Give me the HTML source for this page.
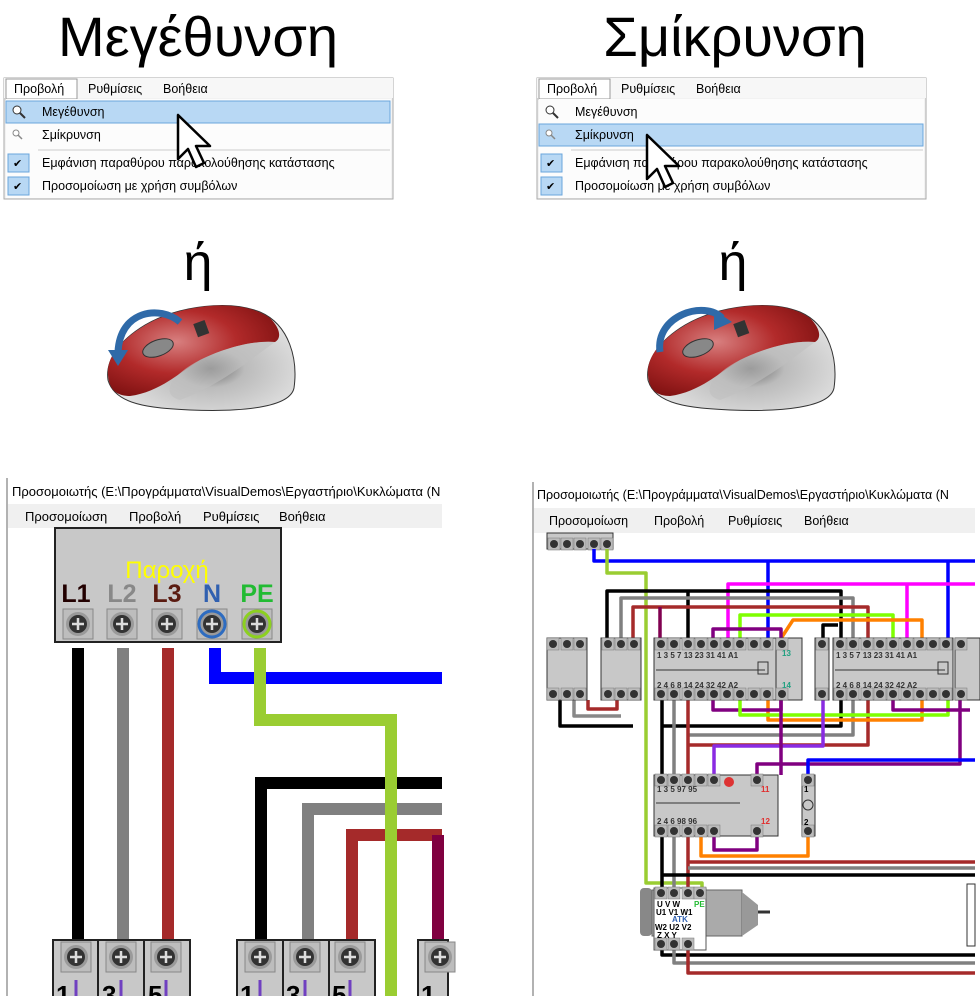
<!DOCTYPE html>
<html><head><meta charset="utf-8"><style>
body{margin:0;background:#fff;}
svg{display:block;font-family:"Liberation Sans","DejaVu Sans",sans-serif;}
</style></head><body>
<svg width="980" height="996" viewBox="0 0 980 996" xmlns="http://www.w3.org/2000/svg">
<defs>
<g id="scr"><rect x="-15" y="-15" width="30" height="30" fill="#bdbdbd" stroke="#888"/><circle r="12" fill="#9a9a9a"/><circle r="9" fill="#333"/><path d="M-6 0H6M0-6V6" stroke="#ddd" stroke-width="2.5"/></g>
<g id="s"><rect x="-6" y="-6" width="12" height="12" fill="#bbb" stroke="#777" stroke-width=".5"/><circle r="4" fill="#333"/></g>
<radialGradient id="rg" cx="40%" cy="40%" r="70%"><stop offset="0" stop-color="#d88080"/><stop offset=".5" stop-color="#b22a2a"/><stop offset="1" stop-color="#7a0f0f"/></radialGradient>
<radialGradient id="gg" cx="55%" cy="60%" r="60%"><stop offset="0" stop-color="#666"/><stop offset=".3" stop-color="#bbb"/><stop offset="1" stop-color="#e8e8e8"/></radialGradient>
<g id="mouse">
<path d="M8 80 C5 60 20 40 45 25 C80 5 130 0 160 12 C190 25 198 60 194 88 C190 108 140 112 90 110 C50 108 15 105 8 80Z" fill="url(#gg)" stroke="#333" stroke-width="1"/>
<path d="M8 75 C6 55 25 35 55 20 C95 2 145 0 170 18 C180 28 182 38 175 42 C150 40 120 50 100 60 C80 72 60 92 30 96 C15 96 9 88 8 75Z" fill="url(#rg)"/>
<path d="M100 60 C120 50 150 40 175 42 C150 60 120 85 80 100 C60 95 70 75 100 60Z" fill="#c0c0c0" opacity=".6"/>
<ellipse cx="58" cy="48" rx="16" ry="8" fill="#888" transform="rotate(-20 58 48)" stroke="#333"/>
<rect x="95" y="22" width="12" height="14" fill="#333" transform="rotate(-20 100 28)"/>
</g>
<g id="cur"><path d="M0 0 L0 44 L10 34 L18 52 L26 48 L18 31 L32 31 Z" fill="#fff" stroke="#000" stroke-width="2.5" stroke-linejoin="round"/></g>
</defs>

<!-- Titles -->
<text x="198" y="56" font-size="56" text-anchor="middle">Μεγέθυνση</text>
<text x="735" y="56" font-size="56" text-anchor="middle">Σμίκρυνση</text>
<text x="198" y="280" font-size="52" text-anchor="middle">ή</text>
<text x="733" y="280" font-size="52" text-anchor="middle">ή</text>

<!-- Left menu -->
<g font-size="12.5" fill="#000">
<rect x="4" y="78" width="389" height="121" fill="#f2f2f2" stroke="#aaa"/>
<rect x="4" y="78" width="389" height="20" fill="#f7f7f7"/>
<rect x="6" y="79" width="71" height="20" fill="#fff" stroke="#999"/>
<text x="14" y="93">Προβολή</text><text x="88" y="93">Ρυθμίσεις</text><text x="163" y="93">Βοήθεια</text>
<rect x="6" y="99" width="385" height="99" fill="#fcfcfc"/>
<rect x="6" y="101" width="384" height="22" fill="#b8d8f4" stroke="#6aa6dc"/>
<text x="42" y="116">Μεγέθυνση</text>
<text x="42" y="139">Σμίκρυνση</text>
<line x1="38" y1="150" x2="390" y2="150" stroke="#ccc"/>
<rect x="8" y="154" width="21" height="18" fill="#b8d8f4" stroke="#6aa6dc"/><text x="13" y="167" font-size="11">✔</text>
<rect x="8" y="177" width="21" height="18" fill="#b8d8f4" stroke="#6aa6dc"/><text x="13" y="190" font-size="11">✔</text>
<text x="42" y="167">Εμφάνιση παραθύρου παρακολούθησης κατάστασης</text>
<text x="42" y="190">Προσομοίωση με χρήση συμβόλων</text>
<circle cx="17" cy="110" r="4" fill="#fff" stroke="#333"/><line x1="20" y1="113" x2="25" y2="118" stroke="#333" stroke-width="2"/>
<circle cx="16" cy="133" r="3" fill="#fff" stroke="#888"/><line x1="18" y1="135" x2="22" y2="139" stroke="#888" stroke-width="1.5"/>
</g>
<use href="#cur" x="178" y="115"/>

<!-- Right menu -->
<g font-size="12.5" fill="#000">
<rect x="537" y="78" width="389" height="121" fill="#f2f2f2" stroke="#aaa"/>
<rect x="537" y="78" width="389" height="20" fill="#f7f7f7"/>
<rect x="539" y="79" width="71" height="20" fill="#fff" stroke="#999"/>
<text x="547" y="93">Προβολή</text><text x="621" y="93">Ρυθμίσεις</text><text x="696" y="93">Βοήθεια</text>
<rect x="539" y="99" width="385" height="99" fill="#fcfcfc"/>
<rect x="539" y="124" width="384" height="22" fill="#b8d8f4" stroke="#6aa6dc"/>
<text x="575" y="116">Μεγέθυνση</text>
<text x="575" y="139">Σμίκρυνση</text>
<line x1="571" y1="150" x2="923" y2="150" stroke="#ccc"/>
<rect x="541" y="154" width="21" height="18" fill="#b8d8f4" stroke="#6aa6dc"/><text x="546" y="167" font-size="11">✔</text>
<rect x="541" y="177" width="21" height="18" fill="#b8d8f4" stroke="#6aa6dc"/><text x="546" y="190" font-size="11">✔</text>
<text x="575" y="167">Εμφάνιση παραθύρου παρακολούθησης κατάστασης</text>
<text x="575" y="190">Προσομοίωση με χρήση συμβόλων</text>
<circle cx="550" cy="110" r="4" fill="#fff" stroke="#333"/><line x1="553" y1="113" x2="558" y2="118" stroke="#333" stroke-width="2"/>
<circle cx="549" cy="133" r="3" fill="#fff" stroke="#888"/><line x1="551" y1="135" x2="555" y2="139" stroke="#888" stroke-width="1.5"/>
</g>
<use href="#cur" x="647" y="135"/>

<!-- Mice -->
<use href="#mouse" x="100" y="300"/>
<path d="M180 322 C160 305 120 310 118 352" fill="none" stroke="#2f6aa8" stroke-width="7"/>
<path d="M108 350 L128 350 L118 366 Z" fill="#2f6aa8"/>
<use href="#mouse" x="640" y="300"/>
<path d="M660 352 C655 315 705 300 722 318" fill="none" stroke="#2f6aa8" stroke-width="7"/>
<path d="M714 310 L732 322 L714 330 Z" fill="#2f6aa8"/>

<!-- Bottom left panel -->
<line x1="7" y1="478" x2="7" y2="996" stroke="#999" stroke-width="1.5"/>
<text x="12" y="496" font-size="13">Προσομοιωτής (E:\Προγράμματα\VisualDemos\Εργαστήριο\Κυκλώματα (N</text>
<rect x="8" y="504" width="434" height="24" fill="#f0f0f0"/>
<g font-size="13"><text x="25" y="521">Προσομοίωση</text><text x="129" y="521">Προβολή</text><text x="203" y="521">Ρυθμίσεις</text><text x="279" y="521">Βοήθεια</text></g>
<rect x="55" y="528" width="226" height="114" fill="#c8c8c8" stroke="#222" stroke-width="2"/>
<text x="167" y="578" font-size="24" fill="#ffff00" text-anchor="middle">Παροχή</text>
<g font-size="25" font-weight="bold" text-anchor="middle">
<text x="76" y="602" fill="#200">L1</text><text x="122" y="602" fill="#888">L2</text><text x="167" y="602" fill="#5a1a10">L3</text><text x="212" y="602" fill="#3060b0">N</text><text x="257" y="602" fill="#22bb33">PE</text></g>
<use href="#scr" x="78" y="624"/><use href="#scr" x="122" y="624"/><use href="#scr" x="167" y="624"/><use href="#scr" x="212" y="624"/><use href="#scr" x="257" y="624"/>
<circle cx="212" cy="624" r="13" fill="none" stroke="#2e6cc0" stroke-width="3"/>
<circle cx="257" cy="624" r="13" fill="none" stroke="#8cd020" stroke-width="3"/>
<g fill="none" stroke-width="12">
<path d="M78 648V940" stroke="#000"/>
<path d="M123 648V940" stroke="#808080"/>
<path d="M168 648V940" stroke="#a52a2a"/>
<path d="M215 648V678H442" stroke="#0000ff"/>
<path d="M260 648V720H391V996" stroke="#9acd32"/>
<path d="M261 940V783H442" stroke="#000"/>
<path d="M308 940V809H442" stroke="#808080"/>
<path d="M352 940V835H442" stroke="#a52a2a"/>
<path d="M438 940V835" stroke="#800040"/>
</g>
<path d="M391 730V996" stroke="#9acd32" stroke-width="12"/>
<g>
<rect x="53" y="940" width="137" height="60" fill="#c8c8c8" stroke="#222" stroke-width="2"/>
<rect x="237" y="940" width="138" height="60" fill="#c8c8c8" stroke="#222" stroke-width="2"/>
<rect x="418" y="940" width="30" height="60" fill="#c8c8c8" stroke="#222" stroke-width="2"/>
<line x1="98" y1="940" x2="98" y2="996" stroke="#222" stroke-width="2"/><line x1="144" y1="940" x2="144" y2="996" stroke="#222" stroke-width="2"/>
<line x1="283" y1="940" x2="283" y2="996" stroke="#222" stroke-width="2"/><line x1="329" y1="940" x2="329" y2="996" stroke="#222" stroke-width="2"/>
<use href="#scr" x="76" y="957"/><use href="#scr" x="121" y="957"/><use href="#scr" x="166" y="957"/>
<use href="#scr" x="260" y="957"/><use href="#scr" x="305" y="957"/><use href="#scr" x="350" y="957"/><use href="#scr" x="440" y="957"/>
<g font-size="26" font-weight="bold"><text x="56" y="1004">1</text><text x="102" y="1004">3</text><text x="148" y="1004">5</text><text x="240" y="1004">1</text><text x="286" y="1004">3</text><text x="332" y="1004">5</text><text x="421" y="1004">1</text></g>
<g stroke="#7040c0" stroke-width="3"><path d="M76 980V996M121 980V996M166 980V996M260 980V996M305 980V996M350 980V996"/></g>
</g>
<path d="M391 940V996" stroke="#9acd32" stroke-width="12"/>

<!-- Bottom right panel -->
<line x1="533" y1="482" x2="533" y2="996" stroke="#999" stroke-width="1.5"/>
<text x="537" y="499" font-size="12.5">Προσομοιωτής (E:\Προγράμματα\VisualDemos\Εργαστήριο\Κυκλώματα (N</text>
<rect x="534" y="508" width="441" height="25" fill="#f0f0f0"/>
<g font-size="12.5"><text x="549" y="525">Προσομοίωση</text><text x="654" y="525">Προβολή</text><text x="728" y="525">Ρυθμίσεις</text><text x="804" y="525">Βοήθεια</text></g>
<rect x="547" y="533" width="66" height="16" fill="#c8c8c8" stroke="#333"/>
<use href="#s" x="554" y="544"/><use href="#s" x="567" y="544"/><use href="#s" x="580" y="544"/><use href="#s" x="594" y="544"/><use href="#s" x="607" y="544"/>
<g stroke-width="3.5" fill="none" stroke-linejoin="round">
<path d="M594 549V561H975M768 561V640M948 561V640" stroke="#0000ff"/>
<path d="M607 549V573H646V883H702V890" stroke="#9acd32"/>
<path d="M728 640V584H975M907 584V640" stroke="#ff00ff"/>
<path d="M607 640V591H841V726H662M688 591V640" stroke="#000"/>
<path d="M621 640V598H853V735H688" stroke="#808080"/>
<path d="M633 640V607H868V745H688" stroke="#a52a2a"/>
<path d="M660 607V640" stroke="#800050"/>
<path d="M740 640V615H893V640" stroke="#7fff00"/>
<path d="M780 640L793 620H922V720H768V700" stroke="#ff8000"/>
<path d="M713 640V629H781V640" stroke="#800080"/>
<path d="M713 700V710H781V700" stroke="#800080"/>
<path d="M740 700V715H948V700" stroke="#7fff00"/>
<path d="M893 700V710H970" stroke="#800080"/>
<path d="M823 640V625H838" stroke="#000"/>
<path d="M560 700V726H633" stroke="#000"/><path d="M574 700V716H621" stroke="#888"/><path d="M588 700V709H617V700" stroke="#a52a2a"/>
<path d="M823 700V746H714V775" stroke="#8a2be2"/>
<path d="M781 700V775" stroke="#800080"/>
<path d="M757 775V764H960V700" stroke="#800080"/>
<path d="M808 775V760H975" stroke="#0000ff"/>
<path d="M701 836V856H808V836" stroke="#ff8000"/>
<path d="M714 836V850H757V836" stroke="#800080"/>
<path d="M662 700V775M662 836V955H975" stroke="#000"/>
<path d="M674 700V775M674 836V963H975" stroke="#808080"/>
<path d="M688 700V775M688 836V973H975" stroke="#a52a2a"/>
<path d="M688 862H975" stroke="#a52a2a"/><path d="M688 868H975" stroke="#808080"/><path d="M662 875H975" stroke="#000"/>
</g>
<g fill="#c8c8c8" stroke="#333" stroke-width="1">
<rect x="547" y="638" width="40" height="62"/><rect x="601" y="638" width="40" height="62"/>
<rect x="654" y="638" width="122" height="62"/><rect x="776" y="638" width="26" height="62"/>
<rect x="815" y="638" width="14" height="62"/><rect x="833" y="638" width="120" height="62"/><rect x="955" y="638" width="25" height="62"/>
<rect x="654" y="775" width="124" height="61"/><rect x="802" y="775" width="13" height="61"/>
</g>
<g>
<use href="#s" x="553" y="644"/><use href="#s" x="567" y="644"/><use href="#s" x="580" y="644"/>
<use href="#s" x="553" y="694"/><use href="#s" x="567" y="694"/><use href="#s" x="580" y="694"/>
<use href="#s" x="608" y="644"/><use href="#s" x="621" y="644"/><use href="#s" x="634" y="644"/>
<use href="#s" x="608" y="694"/><use href="#s" x="621" y="694"/><use href="#s" x="634" y="694"/>
<use href="#s" x="661" y="644"/><use href="#s" x="674" y="644"/><use href="#s" x="688" y="644"/><use href="#s" x="701" y="644"/><use href="#s" x="714" y="644"/><use href="#s" x="727" y="644"/><use href="#s" x="740" y="644"/><use href="#s" x="754" y="644"/><use href="#s" x="767" y="644"/><use href="#s" x="782" y="644"/>
<use href="#s" x="661" y="694"/><use href="#s" x="674" y="694"/><use href="#s" x="688" y="694"/><use href="#s" x="701" y="694"/><use href="#s" x="714" y="694"/><use href="#s" x="727" y="694"/><use href="#s" x="740" y="694"/><use href="#s" x="754" y="694"/><use href="#s" x="767" y="694"/><use href="#s" x="782" y="694"/>
<use href="#s" x="822" y="644"/><use href="#s" x="822" y="694"/>
<use href="#s" x="840" y="644"/><use href="#s" x="853" y="644"/><use href="#s" x="867" y="644"/><use href="#s" x="880" y="644"/><use href="#s" x="893" y="644"/><use href="#s" x="907" y="644"/><use href="#s" x="920" y="644"/><use href="#s" x="933" y="644"/><use href="#s" x="946" y="644"/><use href="#s" x="961" y="644"/>
<use href="#s" x="840" y="694"/><use href="#s" x="853" y="694"/><use href="#s" x="867" y="694"/><use href="#s" x="880" y="694"/><use href="#s" x="893" y="694"/><use href="#s" x="907" y="694"/><use href="#s" x="920" y="694"/><use href="#s" x="933" y="694"/><use href="#s" x="946" y="694"/><use href="#s" x="961" y="694"/>
<use href="#s" x="661" y="780"/><use href="#s" x="674" y="780"/><use href="#s" x="688" y="780"/><use href="#s" x="701" y="780"/><use href="#s" x="714" y="780"/><use href="#s" x="757" y="780"/>
<use href="#s" x="661" y="831"/><use href="#s" x="674" y="831"/><use href="#s" x="688" y="831"/><use href="#s" x="701" y="831"/><use href="#s" x="714" y="831"/><use href="#s" x="757" y="831"/>
<use href="#s" x="808" y="780"/><use href="#s" x="808" y="831"/>
<circle cx="729" cy="782" r="5" fill="#d33"/>
</g>
<g stroke="#333" stroke-width="1" fill="none">
<path d="M656 670H765M835 670H945M656 803H740"/>
<rect x="758" y="662" width="10" height="12"/><rect x="938" y="662" width="10" height="12"/>
<circle cx="808" cy="805" r="5"/>
</g>
<g font-size="8" font-weight="bold">
<text x="657" y="658" fill="#333">1 3 5 7 13 23 31 41 A1</text><text x="657" y="688" fill="#333">2 4 6 8 14 24 32 42 A2</text>
<text x="782" y="656" fill="#20a080">13</text><text x="782" y="688" fill="#20a080">14</text>
<text x="836" y="658" fill="#333">1 3 5 7 13 23 31 41 A1</text><text x="836" y="688" fill="#333">2 4 6 8 14 24 32 42 A2</text>
<text x="657" y="792" fill="#333">1 3 5 97 95</text><text x="657" y="824" fill="#333">2 4 6 98 96</text>
<text x="761" y="792" fill="#e03030">11</text><text x="761" y="824" fill="#e03030">12</text>
<text x="804" y="792">1</text><text x="804" y="825">2</text>
</g>
<rect x="640" y="888" width="12" height="48" rx="4" fill="#888"/>
<rect x="652" y="890" width="90" height="46" fill="#aaa" stroke="#666"/>
<path d="M742 892L758 905V925L742 936Z" fill="#999"/>
<path d="M758 912H770" stroke="#333" stroke-width="3"/>
<rect x="654" y="888" width="52" height="62" fill="#fff" stroke="#555"/>
<g><use href="#s" x="661" y="893"/><use href="#s" x="674" y="893"/><use href="#s" x="688" y="893"/><use href="#s" x="700" y="893"/>
<use href="#s" x="661" y="944"/><use href="#s" x="674" y="944"/><use href="#s" x="688" y="944"/></g>
<g font-size="8" font-weight="bold"><text x="657" y="907">U V W</text><text x="694" y="907" fill="#22bb33">PE</text>
<text x="656" y="915">U1 V1 W1</text><text x="672" y="922" fill="#3060b0">ATK</text><text x="655" y="930">W2 U2 V2</text><text x="657" y="938">Z X Y</text></g>
<rect x="967" y="884" width="8" height="62" fill="#fff" stroke="#333"/>
</svg>
</body></html>
